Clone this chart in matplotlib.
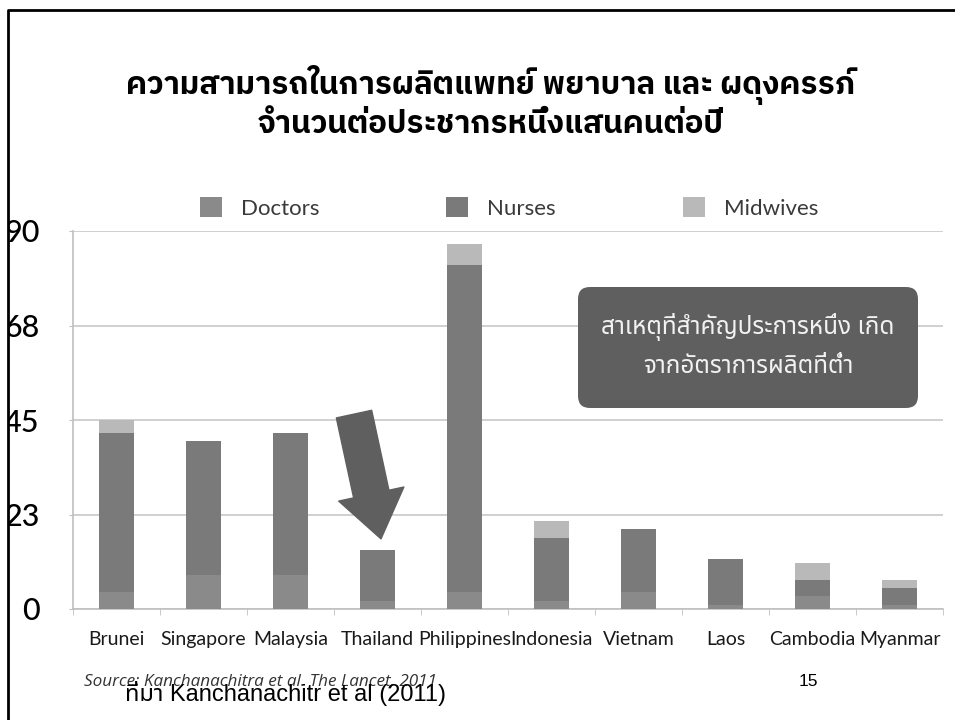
import numpy as np
import matplotlib
matplotlib.use("Agg")
import matplotlib.pyplot as plt
from matplotlib.patches import FancyBboxPatch, Rectangle
from matplotlib.lines import Line2D

# production of health workers per 100,000 population per year
countries = ["Brunei", "Singapore", "Malaysia", "Thailand", "Philippines",
             "Indonesia", "Vietnam", "Laos", "Cambodia", "Myanmar"]
doctors = [4, 8, 8, 2, 4, 2, 4, 1, 3, 1]
nurses = [38, 32, 34, 12, 78, 15, 15, 11, 4, 4]
midwives = [3, 0, 0, 0, 5, 4, 0, 0, 4, 2]
series_names = ["Doctors", "Nurses", "Midwives"]
yticks = [0, 22.5, 45, 67.5, 90]
ytick_labels = ["0", "23", "45", "68", "90"]

title_lines = "ความสามารถในการผลิตแพทย์ พยาบาล และ ผดุงครรภ์\nจำนวนต่อประชากรหนึ่งแสนคนต่อปี"
note_text = "สาเหตุที่สำคัญประการหนึ่ง เกิด\nจากอัตราการผลิตที่ต่ำ"
source_en = "Source: Kanchanachitra et al. The Lancet, 2011"
source_th = "ที่มา Kanchanachitr et al (2011)"
page_no = "15"

c_doc, c_nur, c_mid = "#8a8a8a", "#7a7a7a", "#b9b9b9"
dark = "#5f5f5f"

fig = plt.figure(figsize=(9.55, 7.2), dpi=100)
ax = fig.add_axes([73 / 955, 1 - 609 / 720, 870 / 955, 378 / 720])

x = np.arange(len(countries))
d = np.array(doctors)
n = np.array(nurses)
m = np.array(midwives)
w = 0.4
b1 = ax.bar(x, d, w, color=c_doc, zorder=3, label=series_names[0])
b2 = ax.bar(x, n, w, bottom=d, color=c_nur, zorder=3, label=series_names[1])
b3 = ax.bar(x, m, w, bottom=d + n, color=c_mid, zorder=3, label=series_names[2])

ax.set_xlim(-0.5, len(countries) - 0.5)
ax.set_ylim(0, 90)
ax.set_yticks(yticks)
ax.set_yticklabels(ytick_labels, fontsize=22, family="Lato", fontweight="medium", color="black")
ax.tick_params(axis="y", length=3, color="#c0c0c0", pad=21)
ax.set_xticks(x)
ax.set_xticklabels(countries, fontsize=14, family="Lato", color="#1a1a1a")
ax.set_xticks(np.arange(-0.5, len(countries)), minor=True)
ax.tick_params(axis="x", which="major", length=0, pad=16)
ax.tick_params(axis="x", which="minor", length=4, color="#c0c0c0")
ax.yaxis.grid(True, color="#c8c8c8", lw=1.2, zorder=0)
ax.set_axisbelow(True)
for s in ["top", "right"]:
    ax.spines[s].set_visible(False)
for s in ["left", "bottom"]:
    ax.spines[s].set_color("#c0c0c0")
    ax.spines[s].set_linewidth(1.2)

fig.legend(handles=[b1, b2, b3], loc="center", bbox_to_anchor=(509 / 955, 1 - 208 / 720),
           ncol=3, frameon=False, prop={"family": "Lato", "size": 16},
           labelcolor="#3a3a3a", handlelength=1.0, handleheight=1.0,
           handletextpad=0.86, columnspacing=5.7, borderpad=0)

# arrow pointing at Thailand
ax.annotate("", xy=(3.04, 16.7), xytext=(2.73, 46.4),
            arrowprops=dict(arrowstyle="simple,head_length=3.3,head_width=4.8,tail_width=2.6",
                            mutation_scale=10, color=dark, shrinkA=0, shrinkB=0), zorder=5)

# note box
box = FancyBboxPatch((5.78, 3.12), 3.40, 1.21, boxstyle="round,pad=0,rounding_size=0.12",
                     transform=fig.dpi_scale_trans, facecolor=dark, edgecolor="none", zorder=6)
fig.patches.append(box)
fig.text(748 / 955, 1 - 346 / 720, note_text, ha="center", va="center", fontsize=17.5,
         family=["Noto Sans Thai"], fontweight="light", color="#f2f2f2",
         linespacing=1.8, zorder=7)

fig.text(491 / 955, 1 - 102 / 720, title_lines, ha="center", va="center", fontsize=22.5,
         family=["IBM Plex Sans Thai"], fontweight="bold", color="black", linespacing=1.22)

fig.text(84 / 955, 1 - 682 / 720, source_en, ha="left", va="center", fontsize=12.3,
         family="Open Sans", style="italic", color="#333333")
fig.text(125 / 955, 1 - 694 / 720, source_th, ha="left", va="center", fontsize=17,
         family=["Liberation Sans", "Noto Sans Thai"], color="black")
fig.text(808 / 955, 1 - 682 / 720, page_no, ha="center", va="center", fontsize=12.5,
         family="Liberation Sans", color="black")

# slide frame: top and left edges only
fig.patches.append(Rectangle((0, 0), 8 / 955, 1, transform=fig.transFigure,
                             facecolor="white", edgecolor="none", zorder=9))
fig.lines.append(Line2D([8 / 955, 8 / 955, 1], [0, 1 - 10 / 720, 1 - 10 / 720],
                        transform=fig.transFigure, color="black", lw=2, zorder=10))

fig.savefig("out.png", dpi=100)
